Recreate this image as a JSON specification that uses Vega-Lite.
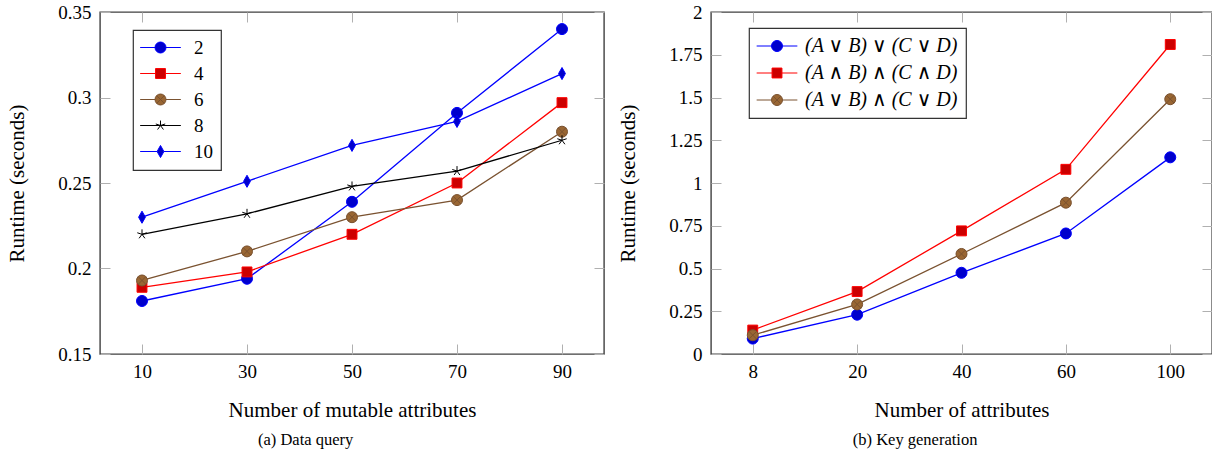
{
  "$schema": "https://vega.github.io/schema/vega-lite/v6.json",
  "padding": {"left": 6, "top": 2, "right": 0, "bottom": 0},
  "spacing": 11,
  "background": "white",
  "datasets": {
    "query": [
      {"series": "2", "attrs": 10, "runtime": 0.181},
      {"series": "2", "attrs": 30, "runtime": 0.194},
      {"series": "2", "attrs": 50, "runtime": 0.239},
      {"series": "2", "attrs": 70, "runtime": 0.291},
      {"series": "2", "attrs": 90, "runtime": 0.340},
      {"series": "4", "attrs": 10, "runtime": 0.189},
      {"series": "4", "attrs": 30, "runtime": 0.198},
      {"series": "4", "attrs": 50, "runtime": 0.220},
      {"series": "4", "attrs": 70, "runtime": 0.250},
      {"series": "4", "attrs": 90, "runtime": 0.297},
      {"series": "6", "attrs": 10, "runtime": 0.193},
      {"series": "6", "attrs": 30, "runtime": 0.210},
      {"series": "6", "attrs": 50, "runtime": 0.230},
      {"series": "6", "attrs": 70, "runtime": 0.240},
      {"series": "6", "attrs": 90, "runtime": 0.280},
      {"series": "8", "attrs": 10, "runtime": 0.220},
      {"series": "8", "attrs": 30, "runtime": 0.232},
      {"series": "8", "attrs": 50, "runtime": 0.248},
      {"series": "8", "attrs": 70, "runtime": 0.257},
      {"series": "8", "attrs": 90, "runtime": 0.275},
      {"series": "10", "attrs": 10, "runtime": 0.230},
      {"series": "10", "attrs": 30, "runtime": 0.251},
      {"series": "10", "attrs": 50, "runtime": 0.272},
      {"series": "10", "attrs": 70, "runtime": 0.286},
      {"series": "10", "attrs": 90, "runtime": 0.314}
    ],
    "keygen": [
      {"series": "(A ∨ B) ∨ (C ∨ D)", "attrs": 8, "runtime": 0.09},
      {"series": "(A ∨ B) ∨ (C ∨ D)", "attrs": 20, "runtime": 0.23},
      {"series": "(A ∨ B) ∨ (C ∨ D)", "attrs": 40, "runtime": 0.475},
      {"series": "(A ∨ B) ∨ (C ∨ D)", "attrs": 60, "runtime": 0.705},
      {"series": "(A ∨ B) ∨ (C ∨ D)", "attrs": 100, "runtime": 1.15},
      {"series": "(A ∧ B) ∧ (C ∧ D)", "attrs": 8, "runtime": 0.14},
      {"series": "(A ∧ B) ∧ (C ∧ D)", "attrs": 20, "runtime": 0.365},
      {"series": "(A ∧ B) ∧ (C ∧ D)", "attrs": 40, "runtime": 0.72},
      {"series": "(A ∧ B) ∧ (C ∧ D)", "attrs": 60, "runtime": 1.08},
      {"series": "(A ∧ B) ∧ (C ∧ D)", "attrs": 100, "runtime": 1.81},
      {"series": "(A ∨ B) ∧ (C ∨ D)", "attrs": 8, "runtime": 0.11},
      {"series": "(A ∨ B) ∧ (C ∨ D)", "attrs": 20, "runtime": 0.29},
      {"series": "(A ∨ B) ∧ (C ∨ D)", "attrs": 40, "runtime": 0.585},
      {"series": "(A ∨ B) ∧ (C ∨ D)", "attrs": 60, "runtime": 0.885},
      {"series": "(A ∨ B) ∧ (C ∨ D)", "attrs": 100, "runtime": 1.49}
    ]
  },
  "resolve": {"scale": {"stroke": "independent", "fill": "independent"}},
  "hconcat": [
    {
      "width": 504,
      "height": 342,
      "title": {"text": "(a) Data query", "orient": "bottom", "frame": "bounds", "anchor": "middle", "font": "Liberation Serif", "fontSize": 16.5, "fontWeight": "normal", "color": "black", "offset": 12},
      "data": {"name": "query"},
      "encoding": {
        "stroke": {"field": "series", "type": "nominal",
                   "scale": {"domain": ["2", "4", "6", "8", "10"], "range": ["#0000ff", "#ff0000", "#7a5230", "#000000", "#0000ff"]},
                   "legend": {"title": null, "orient": "none", "legendX": 33, "legendY": 18, "padding": 8, "strokeColor": "#333333", "fillColor": "white", "symbolSize": 121, "symbolStrokeWidth": 1, "symbolOffset": 10, "labelOffset": 24, "rowPadding": 6, "labelFont": "Liberation Serif", "labelFontSize": 19, "labelColor": "black",
                              "encode": {"legend": {"update": {"strokeWidth": {"value": 1.2}}}, "symbols": {"update": {"shape": {"signal": "datum.index===0?'M-3.7,0H-1M1,0H3.7M1,0A1,1,0,1,1,-1,0A1,1,0,1,1,1,0Z':datum.index===1?'M-3.7,0H-0.9M0.9,0H3.7M-0.9,-0.9H0.9V0.9H-0.9Z':datum.index===2?'M-3.7,0H-1M1,0H3.7M1,0A1,1,0,1,1,-1,0A1,1,0,1,1,1,0ZM-0.707,-0.707L0.707,0.707M-0.707,0.707L0.707,-0.707':datum.index===3?'M-3.7,0H3.7M0,0L0,-0.9M0,0L0.856,-0.278M0,0L0.529,0.728M0,0L-0.529,0.728M0,0L-0.856,-0.278':'M-3.7,0H-0.62M0.62,0H3.7M0,-1.1L0.62,0L0,1.1L-0.62,0Z'"}, "strokeWidth": {"value": 1}, "opacity": {"value": 1}}}}}}
      },
      "layer": [
        {
          "mark": {"type": "line", "strokeWidth": 1.3},
          "encoding": {
            "x": {"field": "attrs", "type": "quantitative", "scale": {"domain": [2, 98], "nice": false, "zero": false},
                  "axis": {"orient": "bottom", "values": [10, 30, 50, 70, 90], "title": "Number of mutable attributes", "labelPadding": 18, "titlePadding": 18}},
            "y": {"field": "runtime", "type": "quantitative", "scale": {"domain": [0.15, 0.35], "nice": false, "zero": false},
                  "axis": {"orient": "left", "values": [0.15, 0.2, 0.25, 0.3, 0.35], "format": ".3~g", "title": "Runtime (seconds)", "labelPadding": 19, "titlePadding": 30}}
          }
        },
        {
          "transform": [{"filter": {"field": "series", "equal": "2"}}],
          "mark": {"type": "point", "filled": true, "strokeWidth": 1, "size": 121, "opacity": 1, "shape": "M1,0A1,1,0,1,1,-1,0A1,1,0,1,1,1,0Z"},
          "encoding": {
            "x": {"field": "attrs", "type": "quantitative", "scale": {"domain": [2, 98], "nice": false, "zero": false},
                  "axis": {"orient": "top", "values": [10, 30, 50, 70, 90], "labels": false, "title": null}},
            "y": {"field": "runtime", "type": "quantitative", "scale": {"domain": [0.15, 0.35], "nice": false, "zero": false},
                  "axis": {"orient": "right", "values": [0.15, 0.2, 0.25, 0.3, 0.35], "labels": false, "title": null}},
            "fill": {"field": "series", "type": "nominal", "scale": {"domain": ["2", "4", "6", "8", "10"], "range": ["#0000cc", "#cc0000", "#996633", "transparent", "#0000cc"]}}
          }
        },
        {
          "transform": [{"filter": {"field": "series", "equal": "4"}}],
          "mark": {"type": "point", "filled": true, "strokeWidth": 1, "size": 121, "opacity": 1, "shape": "M-0.9,-0.9H0.9V0.9H-0.9Z"},
          "encoding": {
            "x": {"field": "attrs", "type": "quantitative", "axis": null},
            "y": {"field": "runtime", "type": "quantitative", "axis": null},
            "fill": {"field": "series", "type": "nominal"}
          }
        },
        {
          "transform": [{"filter": {"field": "series", "equal": "6"}}],
          "mark": {"type": "point", "filled": true, "strokeWidth": 1, "size": 121, "opacity": 1, "shape": "M1,0A1,1,0,1,1,-1,0A1,1,0,1,1,1,0ZM-0.707,-0.707L0.707,0.707M-0.707,0.707L0.707,-0.707"},
          "encoding": {
            "x": {"field": "attrs", "type": "quantitative", "axis": null},
            "y": {"field": "runtime", "type": "quantitative", "axis": null},
            "fill": {"field": "series", "type": "nominal"}
          }
        },
        {
          "transform": [{"filter": {"field": "series", "equal": "8"}}],
          "mark": {"type": "point", "filled": true, "strokeWidth": 1, "size": 121, "opacity": 1, "shape": "M0,0L0,-0.9M0,0L0.856,-0.278M0,0L0.529,0.728M0,0L-0.529,0.728M0,0L-0.856,-0.278"},
          "encoding": {
            "x": {"field": "attrs", "type": "quantitative", "axis": null},
            "y": {"field": "runtime", "type": "quantitative", "axis": null},
            "fill": {"field": "series", "type": "nominal"}
          }
        },
        {
          "transform": [{"filter": {"field": "series", "equal": "10"}}],
          "mark": {"type": "point", "filled": true, "strokeWidth": 1, "size": 121, "opacity": 1, "shape": "M0,-1.1L0.62,0L0,1.1L-0.62,0Z"},
          "encoding": {
            "x": {"field": "attrs", "type": "quantitative", "axis": null},
            "y": {"field": "runtime", "type": "quantitative", "axis": null},
            "fill": {"field": "series", "type": "nominal"}
          }
        }
      ],
      "resolve": {"axis": {"x": "independent", "y": "independent"}}
    },
    {
      "width": 501,
      "height": 342,
      "title": {"text": "(b) Key generation", "orient": "bottom", "frame": "bounds", "anchor": "middle", "font": "Liberation Serif", "fontSize": 16.5, "fontWeight": "normal", "color": "black", "offset": 12},
      "data": {"name": "keygen"},
      "encoding": {
        "stroke": {"field": "series", "type": "nominal",
                   "scale": {"domain": ["(A ∨ B) ∨ (C ∨ D)", "(A ∧ B) ∧ (C ∧ D)", "(A ∨ B) ∧ (C ∨ D)"], "range": ["#0000ff", "#ff0000", "#7a5230"]},
                   "legend": {"title": null, "orient": "none", "legendX": 38, "legendY": 16, "padding": 8, "strokeColor": "#333333", "fillColor": "white", "symbolSize": 121, "symbolStrokeWidth": 1, "symbolOffset": 10, "labelOffset": 18, "rowPadding": 7, "labelFont": "Liberation Serif, DejaVu Serif", "labelFontSize": 20, "labelFontStyle": "italic", "labelColor": "black", "labelLimit": 400,
                              "encode": {"legend": {"update": {"strokeWidth": {"value": 1.2}}}, "symbols": {"update": {"shape": {"signal": "datum.index===0?'M-3.7,0H-1M1,0H3.7M1,0A1,1,0,1,1,-1,0A1,1,0,1,1,1,0Z':datum.index===1?'M-3.7,0H-0.9M0.9,0H3.7M-0.9,-0.9H0.9V0.9H-0.9Z':'M-3.7,0H-1M1,0H3.7M1,0A1,1,0,1,1,-1,0A1,1,0,1,1,1,0ZM-0.707,-0.707L0.707,0.707M-0.707,0.707L0.707,-0.707'"}, "strokeWidth": {"value": 1}, "opacity": {"value": 1}}}}}}
      },
      "layer": [
        {
          "mark": {"type": "line", "strokeWidth": 1.3},
          "encoding": {
            "x": {"field": "attrs", "type": "ordinal", "scale": {"type": "point", "domain": [8, 20, 40, 60, 100], "padding": 0.4},
                  "axis": {"orient": "bottom", "labelAngle": 0, "title": "Number of attributes", "labelPadding": 18, "titlePadding": 18}},
            "y": {"field": "runtime", "type": "quantitative", "scale": {"domain": [0, 2], "nice": false, "zero": false},
                  "axis": {"orient": "left", "values": [0, 0.25, 0.5, 0.75, 1, 1.25, 1.5, 1.75, 2], "format": ".3~g", "title": "Runtime (seconds)", "labelPadding": 19, "titlePadding": 30}}
          }
        },
        {
          "transform": [{"filter": {"field": "series", "equal": "(A ∨ B) ∨ (C ∨ D)"}}],
          "mark": {"type": "point", "filled": true, "strokeWidth": 1, "size": 121, "opacity": 1, "shape": "M1,0A1,1,0,1,1,-1,0A1,1,0,1,1,1,0Z"},
          "encoding": {
            "x": {"field": "attrs", "type": "ordinal", "scale": {"type": "point", "domain": [8, 20, 40, 60, 100], "padding": 0.4},
                  "axis": {"orient": "top", "labels": false, "title": null}},
            "y": {"field": "runtime", "type": "quantitative", "scale": {"domain": [0, 2], "nice": false, "zero": false},
                  "axis": {"orient": "right", "values": [0, 0.25, 0.5, 0.75, 1, 1.25, 1.5, 1.75, 2], "labels": false, "title": null}},
            "fill": {"field": "series", "type": "nominal", "scale": {"domain": ["(A ∨ B) ∨ (C ∨ D)", "(A ∧ B) ∧ (C ∧ D)", "(A ∨ B) ∧ (C ∨ D)"], "range": ["#0000cc", "#cc0000", "#996633"]}}
          }
        },
        {
          "transform": [{"filter": {"field": "series", "equal": "(A ∧ B) ∧ (C ∧ D)"}}],
          "mark": {"type": "point", "filled": true, "strokeWidth": 1, "size": 121, "opacity": 1, "shape": "M-0.9,-0.9H0.9V0.9H-0.9Z"},
          "encoding": {
            "x": {"field": "attrs", "type": "ordinal", "axis": null},
            "y": {"field": "runtime", "type": "quantitative", "axis": null},
            "fill": {"field": "series", "type": "nominal"}
          }
        },
        {
          "transform": [{"filter": {"field": "series", "equal": "(A ∨ B) ∧ (C ∨ D)"}}],
          "mark": {"type": "point", "filled": true, "strokeWidth": 1, "size": 121, "opacity": 1, "shape": "M1,0A1,1,0,1,1,-1,0A1,1,0,1,1,1,0ZM-0.707,-0.707L0.707,0.707M-0.707,0.707L0.707,-0.707"},
          "encoding": {
            "x": {"field": "attrs", "type": "ordinal", "axis": null},
            "y": {"field": "runtime", "type": "quantitative", "axis": null},
            "fill": {"field": "series", "type": "nominal"}
          }
        }
      ],
      "resolve": {"axis": {"x": "independent", "y": "independent"}}
    }
  ],
  "config": {
    "view": {"stroke": "#404040", "strokeWidth": 1.4},
    "font": "Liberation Serif",
    "axis": {"labelFont": "Liberation Serif", "labelFontSize": 19, "labelColor": "black", "titleFont": "Liberation Serif", "titleFontSize": 21, "titleFontWeight": "normal", "titleColor": "black", "domain": false, "grid": false, "tickColor": "#b0b0b0", "tickSize": -10, "tickWidth": 1}
  }
}
